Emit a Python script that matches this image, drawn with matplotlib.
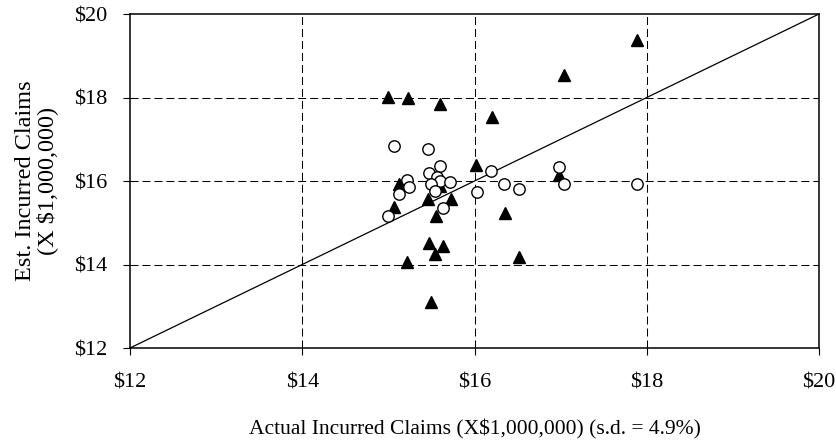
import numpy as np
import matplotlib
matplotlib.use("Agg")
import matplotlib.pyplot as plt

# triangles (filled)
tri_x = [14.99, 15.23, 15.60, 16.20, 17.04, 17.89, 16.02, 15.12, 15.06, 15.46, 15.73,
         15.55, 16.35, 15.47, 15.64, 15.54, 15.22, 16.52, 15.49, 16.98, 15.60]
tri_y = [18.02, 17.98, 17.84, 17.54, 18.55, 19.37, 16.38, 15.94, 15.38, 15.57, 15.57,
         15.15, 15.23, 14.51, 14.44, 14.24, 14.06, 14.18, 13.11, 16.14, 15.88]

# circles (open)
circ_x = [15.06, 15.46, 15.60, 15.47, 15.56, 15.22, 15.24, 15.60, 15.72, 15.49, 15.54,
          15.12, 15.64, 14.99, 16.03, 16.19, 16.34, 16.52, 16.98, 17.04, 17.89]
circ_y = [16.84, 16.77, 16.36, 16.18, 16.10, 16.02, 15.86, 16.00, 15.98, 15.92, 15.76,
          15.69, 15.35, 15.16, 15.73, 16.25, 15.94, 15.80, 16.33, 15.92, 15.94]

ticks = [12, 14, 16, 18, 20]
tick_labels = ["$12", "$14", "$16", "$18", "$20"]

plt.rcParams['font.family'] = ['Liberation Serif', 'DejaVu Serif']

fig = plt.figure(figsize=(8.36, 4.48), dpi=100)
ax = fig.add_axes([130/836, 1 - 348/448, 689/836, 334/448])

ax.set_xlim(12, 20)
ax.set_ylim(12, 20)

for t in ticks[1:-1]:
    ax.axvline(t, color='black', lw=0.75, linestyle=(0, (7.7, 3.8)), zorder=1)
    ax.axhline(t, color='black', lw=0.75, linestyle=(0, (7.7, 3.8)), zorder=1)

ax.plot(ticks, ticks, color='black', lw=0.9, zorder=2)

ax.plot(tri_x, tri_y, '^', color='black', ms=8.5, zorder=3, clip_on=False)
ax.plot(circ_x, circ_y, 'o', mfc='white', mec='black', mew=1.0, ms=8.2, zorder=4)

ax.set_xticks(ticks)
ax.set_xticklabels(tick_labels)
ax.set_yticks(ticks)
ax.set_yticklabels(tick_labels)
ax.tick_params(direction='out', length=5, width=0.8, labelsize=16)
ax.tick_params(axis='x', pad=13)
ax.tick_params(axis='y', pad=11)

for s in ax.spines.values():
    s.set_linewidth(1.1)

ax.set_ylabel("Est. Incurred Claims\n(X \\$1,000,000)", fontsize=17.5, linespacing=1.0, labelpad=12)
ax.set_xlabel("Actual Incurred Claims (X\\$1,000,000) (s.d. = 4.9%)", fontsize=15.5, labelpad=20)

fig.savefig("out.png", dpi=100)
